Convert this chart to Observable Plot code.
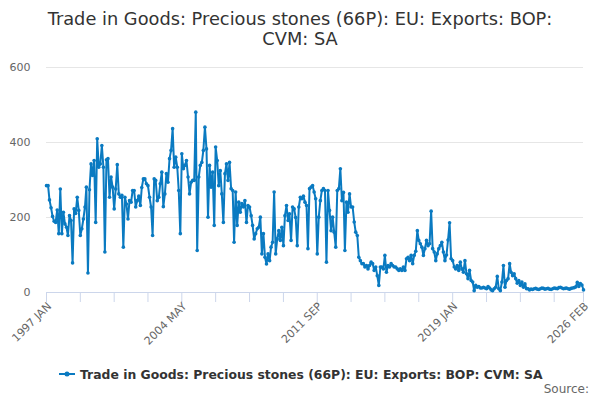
<!DOCTYPE html>
<html>
<head>
<meta charset="utf-8">
<script src="https://cdn.jsdelivr.net/npm/d3@7"></script>
<script src="https://cdn.jsdelivr.net/npm/@observablehq/plot@0.6"></script>
<style>
  html, body { margin: 0; padding: 0; background: #fff; }
  #wrap { position: relative; width: 600px; height: 400px; font-family: "DejaVu Sans", sans-serif; overflow: hidden; }
  #title { position: absolute; top: 9px; left: 0; width: 600px; text-align: center; font-size: 17.8px; line-height: 20px; color: #333; }
  #chart { position: absolute; top: 50px; left: 0; }
  #legend { position: absolute; top: 364px; left: 0; width: 600px; height: 20px; }
  #source { position: absolute; top: 382px; right: 11px; font-size: 12px; line-height: 14px; color: #666; }
</style>
</head>
<body>
<div id="wrap">
  <div id="title">Trade in Goods: Precious stones (66P): EU: Exports: BOP:<br>CVM: SA</div>
  <div id="chart"></div>
  <svg id="legend" width="600" height="20"></svg>
  <div id="source">Source:</div>
</div>
<script>
const seriesName = "Trade in Goods: Precious stones (66P): EU: Exports: BOP: CVM: SA";
const startYear = 1997;
const monthNames = ["JAN","FEB","MAR","APR","MAY","JUN","JUL","AUG","SEP","OCT","NOV","DEC"];

// Monthly values, 1997 JAN .. 2026 FEB
const values1997 = [285,285,247,226,203,190,187,220,157,276,157,214,183,174,152,205,192,79,223,211,
  254,219,152,170,196,228,281,52,274,343,312,352,187,410,334,343,392,334,108,354,
  357,254,308,281,223,276,341,263,254,259,121,254,236,196,245,241,272];
const values2001 = [272,228,245,257,232,280,303,303,290,285,254,228,152,303,299,245,254,290,321,229,
  263,317,294,357,379,437,334,361,334,272,157,370,330,339,352,308,263,294,299,299,
  481,112,308,339,347,379,441,383,201,339,281,321,179,388,352,285,325,263,187,317,
  343,299];
const values2006 = [347,277,272,134,268,179,241,214,237,228,245,187,232,228,205,179,143,157,170,174,
  201,103,157,94,76,103,85,121,134,268,103,143,165,139,174,125,205,232,192,210,
  139,228,223,200,125,228,254,250,257,241,232,117,277,281,285,268,250,103,201,245,
  272,277,272,81,272];
const values2012 = [219,165,201,161,121,272,277,330,245,267,112,241,214,263,228,228,188,161,152,94,
  85,77,77,68,72,63,72,81,77,59,68,45,19,68,68,63,99,54,72,68,
  77,72,68,68,63,59,63,59,68,59,90,94,85,99,77,99,110,165,139];
const values2017 = [130,121,99,117,139,125,130,217,117,108,85,103,117,125,134,108,85,100,140,186,
  90,85,68,63,72,59,81,63,54,85,50,37,59,32,28,5,19,14,16,12,
  12,14,12,10,16,12,7,5,10,14,43,10,5,28,72,14,32,37,77];
const values2022 = [54,45,50,37,25,32,19,28,14,23,10,10,7,
  9,8,10,11,9,8,10,12,11,9,10,11,9,8,10,12,11,10,13,14,12,10,11,12,10,9,11,12,13,15,
  27,16,24,20,7];

const values = [...values1997, ...values2001, ...values2006, ...values2012, ...values2017, ...values2022];
const data = values.map((v, i) => ({date: new Date(Date.UTC(startYear, i, 1)), value: v}));

const tickIndex = [0,22,44,66,88,110,132,154,176,198,220,242,264,286,308,330,349];
const labelIndex = [0,88,176,264,349];
const monthDate = i => new Date(Date.UTC(startYear, i, 1));
const monthLabel = d => `${d.getUTCFullYear()} ${monthNames[d.getUTCMonth()]}`;
const yTicks = [0,200,400,600];

const color = "#0a7ac1";

const chart = Plot.plot({
  width: 600,
  height: 300,
  marginTop: 17,
  marginBottom: 58,
  marginLeft: 46,
  marginRight: 17,
  style: {fontFamily: "DejaVu Sans, sans-serif", background: "transparent", overflow: "visible"},
  x: {type: "utc", domain: [monthDate(0), monthDate(349)]},
  y: {domain: [0, 600]},
  marks: [
    Plot.gridY(yTicks, {stroke: "#e6e6e6", strokeOpacity: 1}),
    Plot.axisY(yTicks, {tickSize: 0, tickPadding: 16, fontSize: 11, fill: "#666", tickFormat: d => d, label: null}),
    Plot.ruleY([0], {stroke: "#ccd6eb"}),
    Plot.axisX(tickIndex.map(monthDate), {tickSize: 10, stroke: "#ccd6eb", strokeOpacity: 1, text: null, label: null}),
    Plot.text(labelIndex.map(monthDate), {x: d => d, frameAnchor: "bottom", dy: 12, dx: 3, rotate: -45, textAnchor: "end", lineAnchor: "middle", text: monthLabel, fontSize: 11, fill: "#666"}),
    Plot.line(data, {x: "date", y: "value", stroke: color, strokeWidth: 2}),
    Plot.dot(data, {x: "date", y: "value", r: 1.8, fill: color, stroke: "none"})
  ]
});
document.getElementById("chart").appendChild(chart);

// legend
const lg = d3.select("#legend");
lg.append("line").attr("x1", 59).attr("x2", 75).attr("y1", 10).attr("y2", 10).attr("stroke", color).attr("stroke-width", 2);
lg.append("circle").attr("cx", 67).attr("cy", 10).attr("r", 2.5).attr("fill", color);
lg.append("text").attr("x", 80).attr("y", 14.5).attr("font-size", 12.4).attr("font-weight", "bold").attr("fill", "#333")
  .attr("font-family", "DejaVu Sans, sans-serif").text(seriesName);
</script>
</body>
</html>
